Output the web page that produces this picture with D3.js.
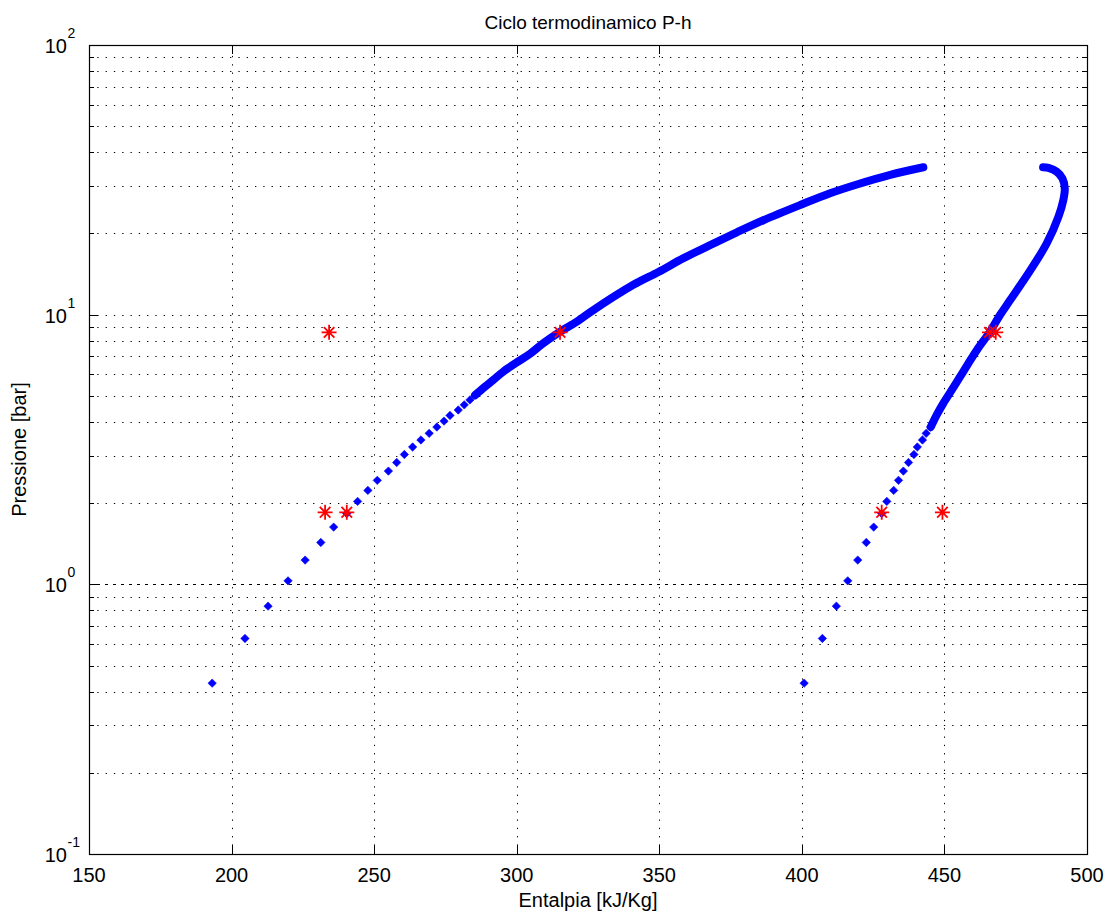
<!DOCTYPE html>
<html><head><meta charset="utf-8">
<script src="https://cdn.jsdelivr.net/npm/d3@7"></script>
<style>
html,body{margin:0;padding:0;background:#fff;}
svg text{font-family:"Liberation Sans",Arial,sans-serif;fill:#000;}
</style></head>
<body>
<svg id="chart" width="1111" height="919"></svg>
<script>
// ---- data ----
const xTicks = [150, 200, 250, 300, 350, 400, 450, 500];
const yDecades = [0.1, 1, 10, 100];
const yDecadeExp = ["-1", "0", "1", "2"];

// sparse saturation points (pressure in bar, enthalpy kJ/kg)
const liqSparseP = [0.43,0.63,0.83,1.03,1.23,1.43,1.63,1.83,2.03,2.23,2.43,2.63,2.83,3.03,3.23,3.43,3.63,3.83,4.03,4.23,4.43,4.63,4.83,5.03];
const liqSparseH = [193.2,204.7,212.8,219.8,225.8,231.3,235.8,240.4,244.2,247.8,251.1,255.0,257.9,260.6,263.5,266.4,269.3,272.0,274.5,276.6,279.5,281.6,283.6,285.4];
const vapSparseP = [0.43,0.63,0.83,1.03,1.23,1.43,1.63,1.83,2.03,2.23,2.43,2.63,2.83,3.03,3.23,3.43,3.63,3.83];
const vapSparseH = [400.8,407.2,412.1,416.1,419.6,422.6,425.2,428.0,429.8,432.2,433.9,435.6,437.4,439.3,440.5,442.3,443.6,445.2];

// dense parts of the saturation curves (markers merge into a band)
const liqDenseP = [5.03,5.41,5.73,6.15,6.65,7.16,7.83,8.61,9.42,10.2,12.9,14.4,16.2,18.1,20.2,22.4,25.5,28.2,30.4,33.0,35.2];
const liqDenseH = [285.4,288.9,291.8,295.3,300.0,304.7,309.3,315.0,321.1,325.7,340.9,349.7,358.5,367.8,377.2,386.5,399.4,409.9,419.3,431.0,442.6];
const vapDenseP = [3.83,4.25,4.69,5.26,5.89,6.60,7.40,8.65,9.97,11.3,14.6,18.4,23.1,26.6,29.4,32.0,33.9,35.0,35.2];
const vapDenseH = [445.2,447.3,449.6,452.6,455.5,458.4,461.4,466.0,469.5,473.0,480.1,485.9,490.0,491.7,492.2,491.4,489.4,486.5,484.6];

// cycle state points (red stars)
const cycleH = [234.2,315.2,232.8,240.4,428.0,449.3,465.8,468.0];
const cycleP = [8.6,8.6,1.85,1.85,1.85,1.85,8.6,8.6];

const titleText = "Ciclo termodinamico P-h";
const xLabel = "Entalpia [kJ/Kg]";
const yLabel = "Pressione [bar]";

// ---- layout ----
const L = 89, R = 1087, T = 45, B = 854;
const svg = d3.select("#chart");
const x = d3.scaleLinear().domain([150, 500]).range([L, R]);
const y = d3.scaleLog().domain([0.1, 100]).range([B, T]);

// grid
const g = svg.append("g");
const minorVals = [];
[0.1, 1, 10].forEach(d => { for (let m = 2; m <= 9; m++) minorVals.push(+(d * m).toPrecision(3)); });
g.selectAll("line.hg").data(minorVals.concat([10])).enter().append("line")
  .attr("x1", L).attr("x2", R).attr("y1", d => Math.round(y(d)) + 0.5).attr("y2", d => Math.round(y(d)) + 0.5)
  .attr("stroke", "#000").attr("stroke-width", 1).attr("stroke-dasharray", "1.3,7");
g.append("line").attr("x1", L).attr("x2", R).attr("y1", Math.round(y(1)) + 0.5).attr("y2", Math.round(y(1)) + 0.5)
  .attr("stroke", "#000").attr("stroke-width", 1).attr("stroke-dasharray", "3,5");
g.selectAll("line.vg").data(xTicks.slice(1, -1)).enter().append("line")
  .attr("y1", B).attr("y2", T).attr("x1", d => Math.round(x(d)) + 0.5).attr("x2", d => Math.round(x(d)) + 0.5)
  .attr("stroke", "#000").attr("stroke-width", 1).attr("stroke-dasharray", "1.3,7");

// ticks
const tk = svg.append("g").attr("stroke", "#000").attr("stroke-width", 1);
xTicks.forEach(v => {
  const px = Math.round(x(v)) + 0.5;
  tk.append("line").attr("x1", px).attr("x2", px).attr("y1", B).attr("y2", B - 9);
  tk.append("line").attr("x1", px).attr("x2", px).attr("y1", T).attr("y2", T + 9);
});
yDecades.forEach(v => {
  const py = Math.round(y(v)) + 0.5;
  tk.append("line").attr("x1", L).attr("x2", L + 9).attr("y1", py).attr("y2", py);
  tk.append("line").attr("x1", R).attr("x2", R - 9).attr("y1", py).attr("y2", py);
});
minorVals.forEach(v => {
  const py = Math.round(y(v)) + 0.5;
  tk.append("line").attr("x1", L).attr("x2", L + 5).attr("y1", py).attr("y2", py);
  tk.append("line").attr("x1", R).attr("x2", R - 5).attr("y1", py).attr("y2", py);
});

// box
svg.append("rect").attr("x", L + 0.5).attr("y", T + 0.5).attr("width", R - L).attr("height", B - T)
  .attr("fill", "none").attr("stroke", "#000").attr("stroke-width", 1.2);

// tick labels
svg.selectAll("text.xt").data(xTicks).enter().append("text")
  .attr("x", d => x(d)).attr("y", B + 28).attr("text-anchor", "middle")
  .attr("font-size", 20).text(d => d);
yDecades.forEach((v, i) => {
  const py = y(v);
  svg.append("text").attr("x", 67).attr("y", py + 8).attr("text-anchor", "end").attr("font-size", 20).text("10");
  svg.append("text").attr("x", 67.5).attr("y", py - 7).attr("text-anchor", "start").attr("font-size", 14).text(yDecadeExp[i]);
});

// labels
svg.append("text").attr("x", (L + R) / 2).attr("y", 29).attr("text-anchor", "middle").attr("font-size", 19).text(titleText);
svg.append("text").attr("x", (L + R) / 2).attr("y", 907).attr("text-anchor", "middle").attr("font-size", 20).text(xLabel);
svg.append("text").attr("transform", `translate(26,${(T + B) / 2}) rotate(-90)`).attr("text-anchor", "middle")
  .attr("font-size", 20).text(yLabel);

// dense bands
const line = d3.line().curve(d3.curveCatmullRom.alpha(0.5)).x(d => x(d[0])).y(d => y(d[1]));
const plot = svg.append("g");
[[liqDenseH, liqDenseP], [vapDenseH, vapDenseP]].forEach(([H, P]) => {
  plot.append("path").datum(H.map((h, i) => [h, P[i]])).attr("d", line)
    .attr("fill", "none").attr("stroke", "#0000ff").attr("stroke-width", 8)
    .attr("stroke-linejoin", "round").attr("stroke-linecap", "round");
});
// diamonds
const diamond = "M0,-4.2L4.2,0L0,4.2L-4.2,0Z";
const pts = [];
liqSparseH.forEach((h, i) => pts.push([h, liqSparseP[i]]));
vapSparseH.forEach((h, i) => pts.push([h, vapSparseP[i]]));
plot.selectAll("path.dm").data(pts).enter().append("path")
  .attr("d", diamond).attr("transform", d => `translate(${x(d[0])},${y(d[1])})`)
  .attr("fill", "#0000ff").attr("stroke", "#0000ff").attr("stroke-width", 0.6);

// stars
const star = "M-7.5,0L7.5,0M0,-7.5L0,7.5M-5.3,-5.3L5.3,5.3M-5.3,5.3L5.3,-5.3";
plot.selectAll("path.st").data(cycleH.map((h, i) => [h, cycleP[i]])).enter().append("path")
  .attr("d", star).attr("transform", d => `translate(${x(d[0])},${y(d[1])})`)
  .attr("fill", "none").attr("stroke", "#ff0000").attr("stroke-width", 1.8);
</script>
</body></html>
